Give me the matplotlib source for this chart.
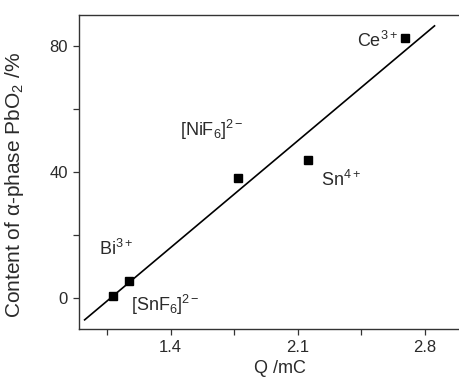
import numpy as np
import matplotlib
matplotlib.use("Agg")
import matplotlib.pyplot as plt

plt.rcParams['font.family'] = ['Liberation Sans', 'DejaVu Sans']
plt.rcParams['mathtext.fontset'] = 'custom'
plt.rcParams['mathtext.rm'] = 'Liberation Sans'
plt.rcParams['mathtext.it'] = 'Liberation Sans:italic'
plt.rcParams['mathtext.default'] = 'regular'

# data
ions = ["Bi$^{3+}$", "[SnF$_6$]$^{2-}$", "[NiF$_6$]$^{2-}$", "Sn$^{4+}$", "Ce$^{3+}$"]
charge_mC = [1.082, 1.170, 1.771, 2.157, 2.695]
alpha_content = [0.5, 5.3, 38.1, 43.9, 82.8]
fit_range = [0.926, 2.855]
x_ticks = [1.4, 2.1, 2.8]
y_ticks = [0, 40, 80]

fig = plt.figure(figsize=(4.59, 3.79), dpi=100)
ax = fig.add_axes([79/459, 50/379, 1 - 79/459, 314/379])

slope, intercept = np.polyfit(charge_mC, alpha_content, 1)
xf = np.array(fit_range)
ax.plot(xf, slope * xf + intercept, color='black', lw=1.2, zorder=2)
ax.plot(charge_mC, alpha_content, 's', color='black', ms=5.5, zorder=3)

offsets = [(-10, 29.5), (1.4, -21.6), (-41.8, 30.2), (9.4, -18.7), (-35, -6.5)]
for lab, x, y, off in zip(ions, charge_mC, alpha_content, offsets):
    ax.annotate(lab, (x, y), xytext=off, textcoords='offset points',
                ha='left', va='baseline', fontsize=13, color='#2a2a2a')

ax.set_xlim(0.895, 2.99)
ax.set_ylim(-10, 90)
ax.set_xticks(x_ticks)
ax.set_yticks(y_ticks)
ax.set_xticks([1.05, 1.75, 2.45], minor=True)
ax.set_yticks([20, 60], minor=True)
ax.tick_params(which='both', direction='out', length=4.5, width=0.9, colors='#333333',
               labelsize=12, labelcolor='#2a2a2a')
ax.spines['right'].set_visible(False)
for s in ['left', 'top', 'bottom']:
    ax.spines[s].set_color('#333333')
    ax.spines[s].set_linewidth(1.0)

ax.set_xlabel('Q /mC', fontsize=13, color='#2a2a2a')
ax.set_ylabel(r'Content of $\alpha$-phase PbO$_2$ /%', fontsize=15, color='#2a2a2a')
ax.xaxis.set_label_coords((280 - 79) / 380, -0.1)
ax.yaxis.set_label_coords(-0.14, 0.46)

fig.savefig('out.png', dpi=100)
